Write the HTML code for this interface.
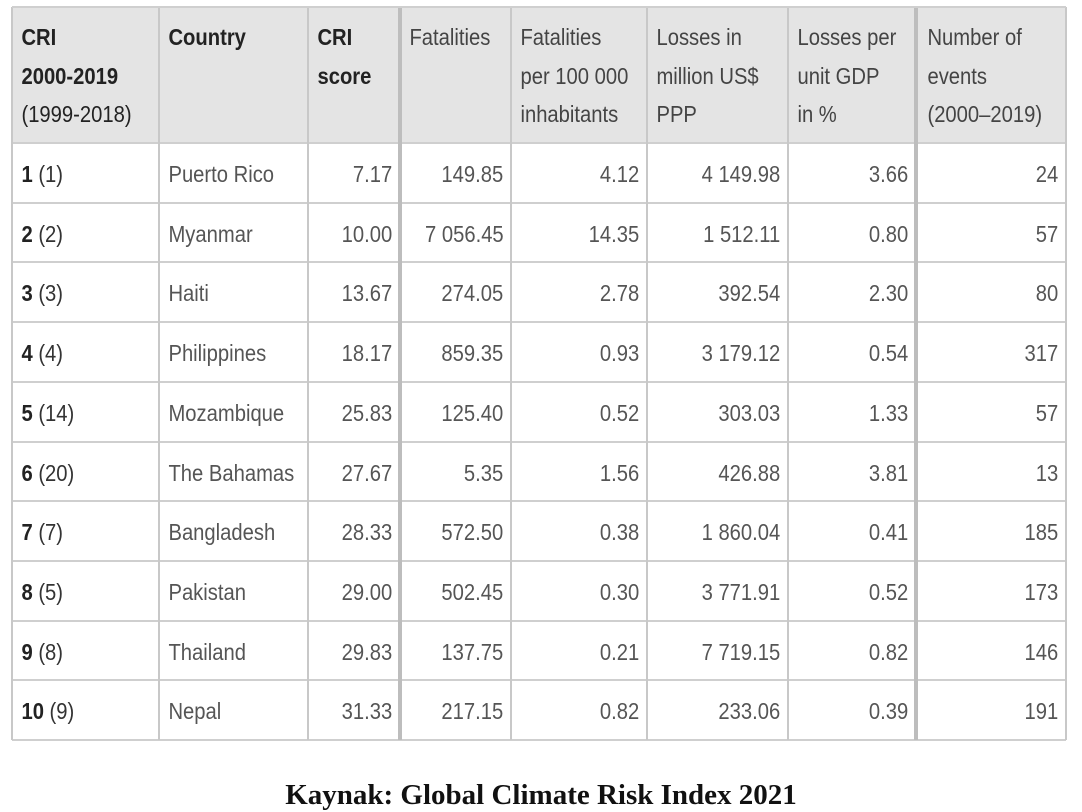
<!DOCTYPE html>
<html><head><meta charset="utf-8"><style>
body{margin:0;width:1082px;height:812px;background:#fff;position:relative;overflow:hidden;font-family:"Liberation Sans",sans-serif;}
.c{position:absolute;box-sizing:border-box;font-size:23.5px;color:#555;line-height:38px;padding:0 9px 0 11px;white-space:nowrap;transform:scaleX(.86);transform-origin:left center;}
.h{color:#222;line-height:38.5px;padding-top:11px;}
.r{text-align:right;transform-origin:right center;}
.vl{position:absolute;top:7px;height:733px;background:#c8c8c8;width:2px;}
.hl{position:absolute;left:12px;width:1054px;height:2px;background:#cfcfcf;}
b{color:#222}
.cap{position:absolute;left:0;width:1082px;top:779px;text-align:center;font:bold 29px "Liberation Serif",serif;color:#111;}
</style></head><body>
<div style="position:absolute;left:12px;top:7px;width:1054px;height:136px;background:#e4e4e4"></div>
<div class="c h" style="left:12px;top:7px"><b>CRI<br>2000-2019</b><br>(1999-2018)</div>
<div class="c h" style="left:159px;top:7px"><b>Country</b></div>
<div class="c h" style="left:308px;top:7px"><b>CRI<br>score</b></div>
<div class="c h" style="left:400px;top:7px;color:#444">Fatalities</div>
<div class="c h" style="left:511px;top:7px;color:#444">Fatalities<br>per 100 000<br>inhabitants</div>
<div class="c h" style="left:647px;top:7px;color:#444">Losses in<br>million US$<br>PPP</div>
<div class="c h" style="left:788px;top:7px;color:#444">Losses per<br>unit GDP<br>in %</div>
<div class="c h" style="left:918px;top:7px;color:#444">Number of<br>events<br>(2000–2019)</div>
<div id="rows"></div>
<div class="vl" style="left:11px"></div>
<div class="vl" style="left:158px"></div>
<div class="vl" style="left:307px"></div>
<div class="vl" style="left:398px;width:4px;background:#bdbdbd"></div>
<div class="vl" style="left:510px"></div>
<div class="vl" style="left:646px"></div>
<div class="vl" style="left:787px"></div>
<div class="vl" style="left:914px;width:4px;background:#bdbdbd"></div>
<div class="vl" style="left:1065px"></div>
<div class="hl" style="top:6px"></div>
<div class="cap">Kaynak: Global Climate Risk Index 2021</div>
<script>
var d=[["1","(1)","Puerto Rico","7.17","149.85","4.12","4 149.98","3.66","24"],
["2","(2)","Myanmar","10.00","7 056.45","14.35","1 512.11","0.80","57"],
["3","(3)","Haiti","13.67","274.05","2.78","392.54","2.30","80"],
["4","(4)","Philippines","18.17","859.35","0.93","3 179.12","0.54","317"],
["5","(14)","Mozambique","25.83","125.40","0.52","303.03","1.33","57"],
["6","(20)","The Bahamas","27.67","5.35","1.56","426.88","3.81","13"],
["7","(7)","Bangladesh","28.33","572.50","0.38","1 860.04","0.41","185"],
["8","(5)","Pakistan","29.00","502.45","0.30","3 771.91","0.52","173"],
["9","(8)","Thailand","29.83","137.75","0.21","7 719.15","0.82","146"],
["10","(9)","Nepal","31.33","217.15","0.82","233.06","0.39","191"]];
var L=[12,159,308,400,511,647,788,916,1066],h="";
for(var i=0;i<10;i++){var t=143+i*59.7;
h+='<div class="hl" style="top:'+(t-1)+'px"></div>';
var y=t+12;
h+='<div class="c" style="left:12px;top:'+y+'px"><b>'+d[i][0]+'</b> <span style="color:#333">'+d[i][1]+'</span></div>';
h+='<div class="c" style="left:159px;top:'+y+'px">'+d[i][2]+'</div>';
for(var j=3;j<9;j++){h+='<div class="c r" style="left:'+L[j-1]+'px;width:'+(L[j]-L[j-1])+'px;top:'+y+'px">'+d[i][j]+'</div>';}
}
h+='<div class="hl" style="top:739px"></div>';
document.getElementById("rows").innerHTML=h;
</script>
</body></html>
